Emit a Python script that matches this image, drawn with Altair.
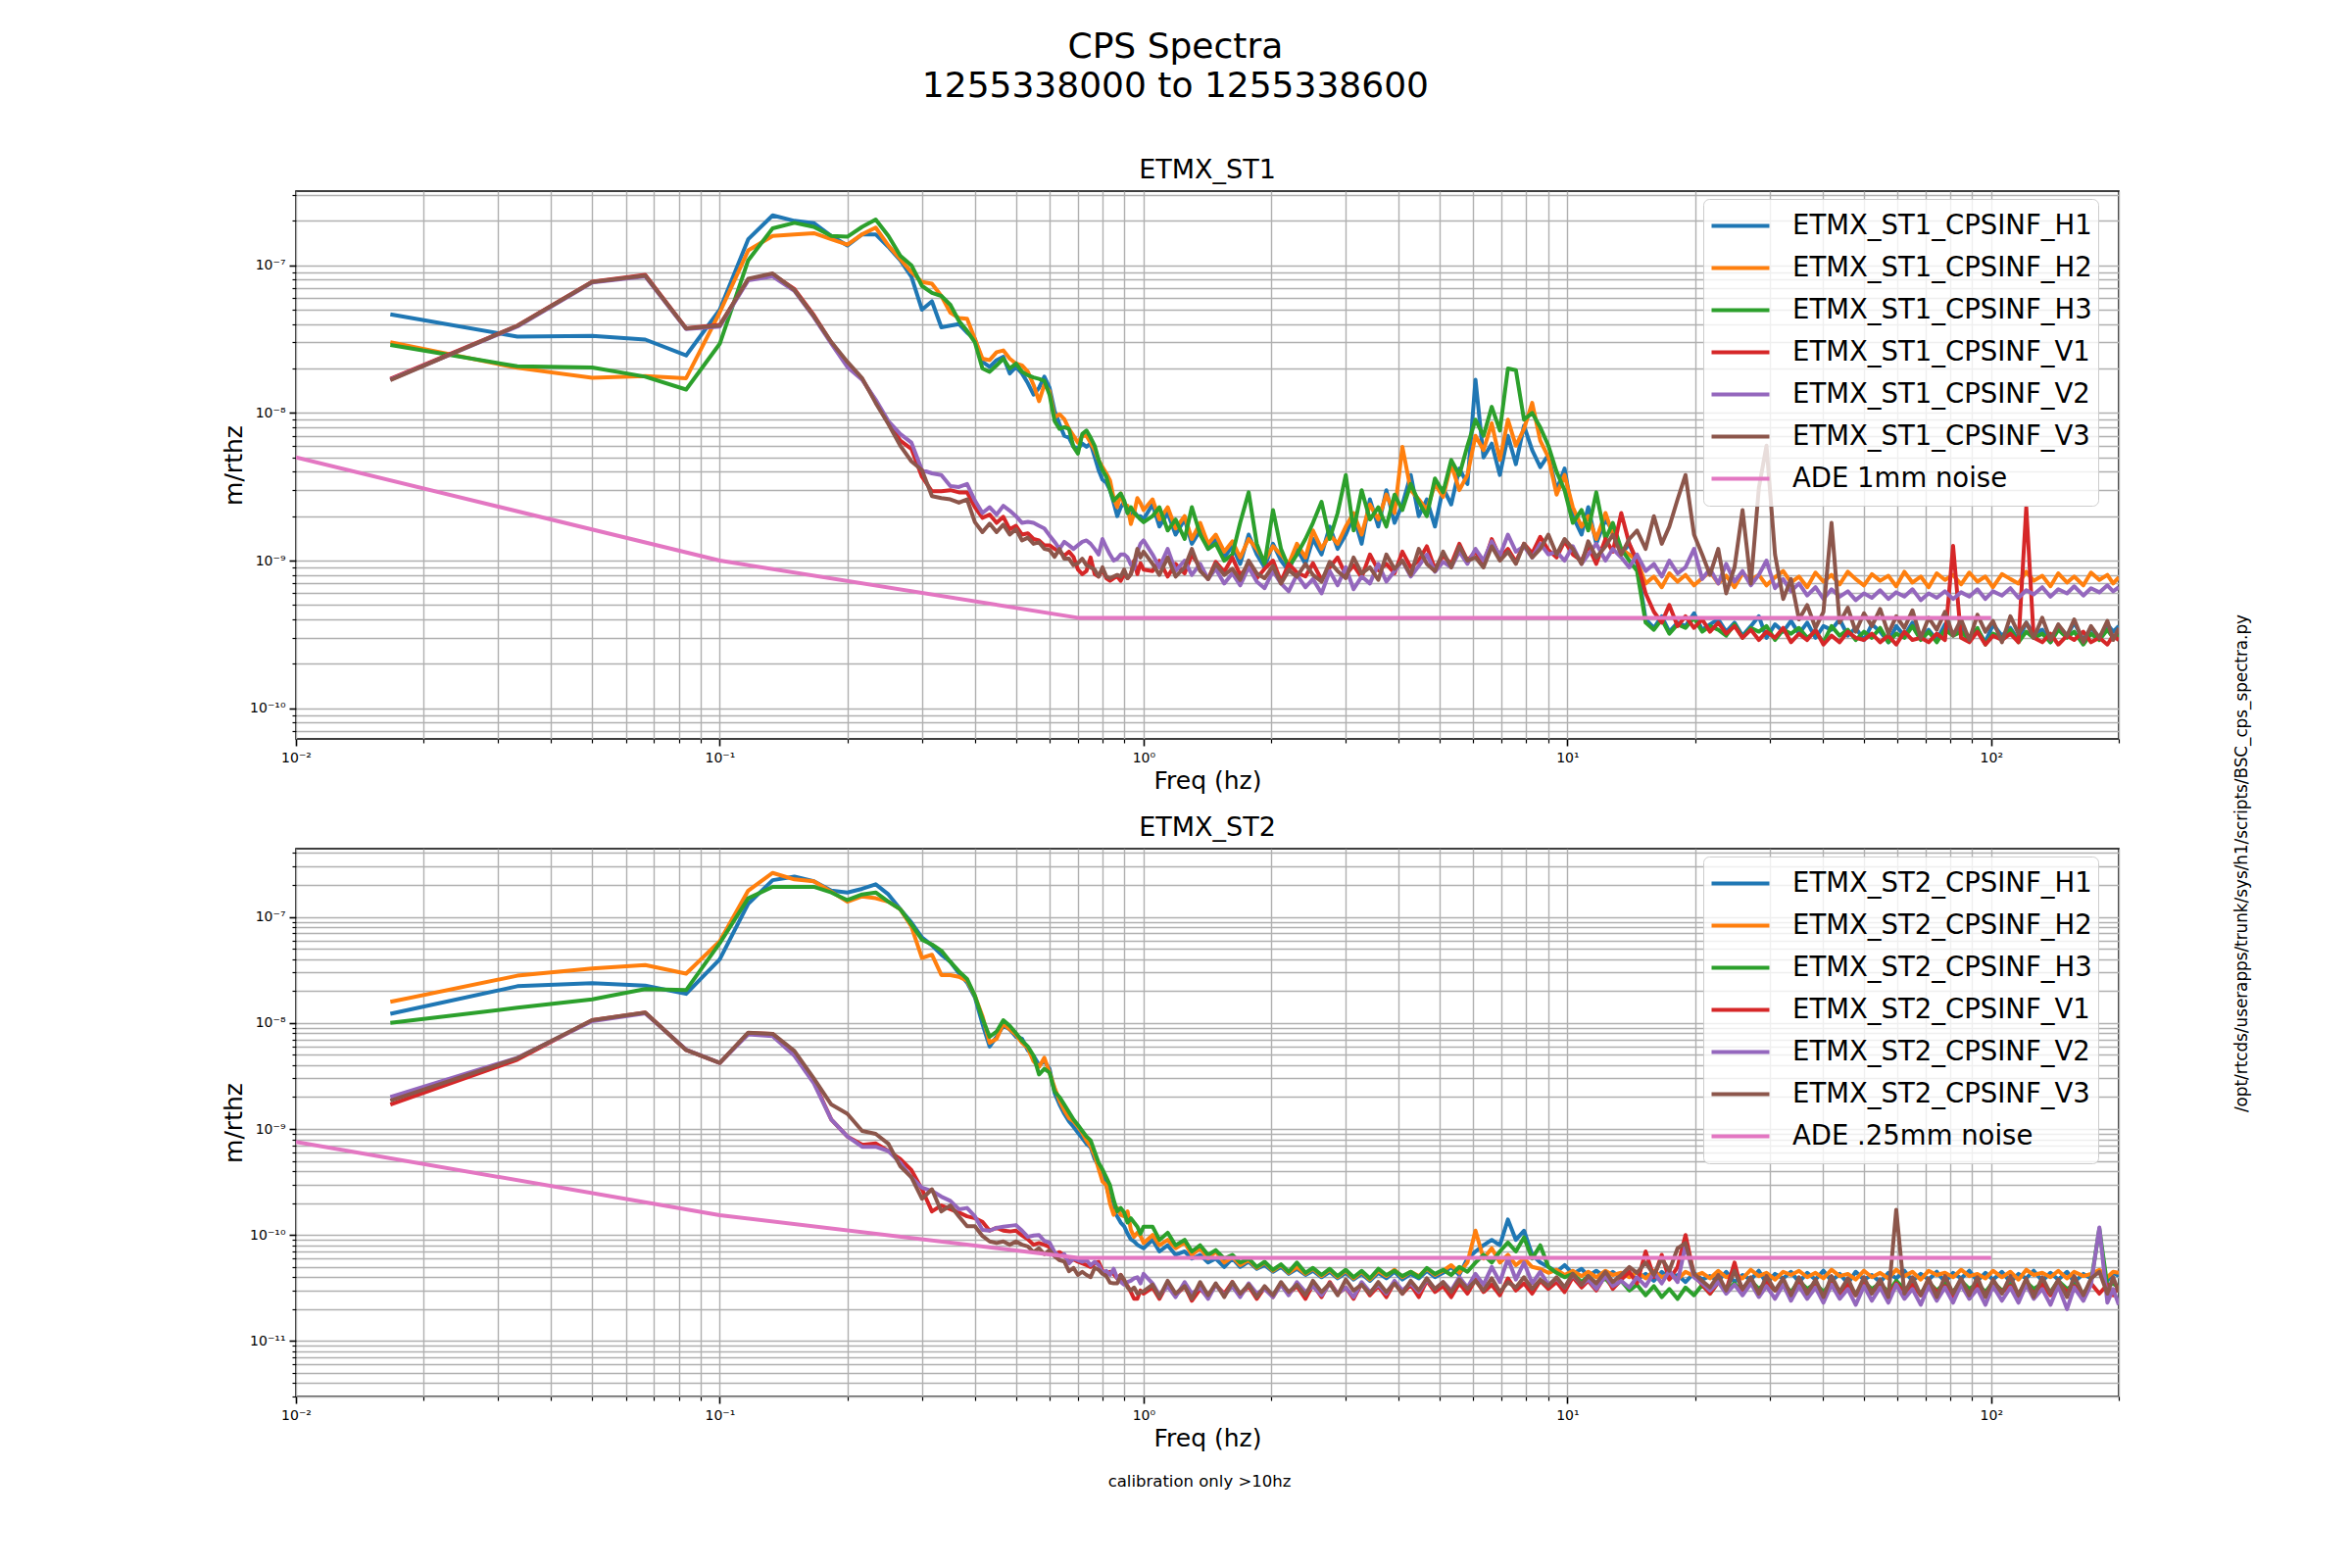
import altair as alt
import pandas as pd

# ---------------- data ----------------
# frequency grid [Hz]
FREQ_LO = [0.0167, 0.0333, 0.05, 0.0667, 0.0833, 0.1, 0.1167, 0.1333, 0.15, 0.1667,
           0.1833, 0.2, 0.2167, 0.2333, 0.25, 0.2667, 0.2833, 0.3, 0.3167, 0.3333,
           0.35, 0.3667, 0.3833, 0.4, 0.4167, 0.4333, 0.45, 0.4667, 0.4833, 0.5,
           0.5167, 0.5333, 0.55, 0.5667, 0.5833, 0.6, 0.6167, 0.6333, 0.65, 0.6667,
           0.6833, 0.7, 0.7167, 0.7333, 0.75, 0.7667, 0.7833, 0.8, 0.8167, 0.8333,
           0.85, 0.8667, 0.8833, 0.9, 0.9167, 0.9333, 0.95, 0.9667, 0.9833, 1.0]
FREQ_HI = [1.05, 1.09, 1.14, 1.19, 1.25, 1.30, 1.36, 1.42, 1.48, 1.55,
           1.62, 1.69, 1.77, 1.85, 1.93, 2.02, 2.11, 2.20, 2.30, 2.41,
           2.51, 2.63, 2.75, 2.87, 3.00, 3.13, 3.27, 3.42, 3.58, 3.74,
           3.91, 4.08, 4.27, 4.46, 4.66, 4.87, 5.09, 5.32, 5.56, 5.81,
           6.07, 6.34, 6.63, 6.93, 7.24, 7.56, 7.90, 8.26, 8.63, 9.02,
           9.43, 9.85, 10.3, 10.8, 11.2, 11.7, 12.3, 12.8, 13.4, 14.0,
           14.6, 15.3, 16.0, 16.7, 17.4, 18.2, 19.0, 19.9, 20.8, 21.7,
           22.7, 23.7, 24.8, 25.9, 27.1, 28.3, 29.5, 30.9, 32.3, 33.7,
           35.2, 36.8, 38.5, 40.2, 42.0, 43.9, 45.9, 47.9, 50.1, 52.3,
           54.7, 57.2, 59.7, 62.4, 65.2, 68.2, 71.2, 74.4, 77.8, 81.3,
           84.9, 88.8, 92.8, 96.9, 101, 106, 111, 116, 121, 126,
           132, 138, 144, 151, 157, 165, 172, 180, 188, 194, 200]
FREQ = FREQ_LO + FREQ_HI

UNIT = 1e-11  # all amplitude values below are in units of 1e-11 m/rthz

# ---- ETMX_ST1 ----
ST1_H1 = [4650, 3290, 3330, 3140, 2450, 5000, 15000, 21800, 20000, 19300,
          15800, 13600, 16200, 16200, 13300, 10800, 8360, 5000, 5700, 3800,
          3900, 4000, 3500, 3170, 2220, 2050, 2280, 2400, 1850, 2050,
          1850, 1590, 1330, 1480, 1760, 1480, 1030, 840, 700, 680,
          590, 575, 620, 590, 620, 505, 410, 353, 337, 300,
          247, 200, 230, 250, 210, 200, 215, 200, 200, 191,
          240, 170, 210, 150, 190, 130, 160, 120, 140, 105,
          125, 95, 150, 110, 90, 130, 100, 85, 120, 95,
          140, 110, 170, 120, 150, 200, 130, 260, 170, 300,
          180, 240, 380, 200, 260, 170, 310, 240, 420, 330,
          1680, 500, 620, 380, 700, 450, 820, 560, 430, 520,
          300, 420, 200, 150, 230, 130, 190, 160, 110, 130,
          95, 40, 35, 42, 33, 38, 36, 44, 34, 37,
          40, 33, 38, 31, 36, 42, 30, 37, 33, 39,
          32, 38, 30, 36, 34, 40, 31, 35, 29, 37,
          33, 28, 36, 31, 38, 30, 34, 29, 37, 32,
          36, 30, 34, 28, 37, 31, 35, 29, 38, 32,
          34, 28, 36, 31, 38, 29, 35, 30, 37, 33, 36]
ST1_H2 = [3010, 2020, 1730, 1780, 1720, 4800, 12600, 15800, 16200, 16500,
          15000, 13800, 16200, 18000, 13600, 11000, 9000, 7700, 7500, 6200,
          4770, 4400, 4350, 3170, 2330, 2280, 2580, 2650, 2330, 2160,
          2100, 1900, 1550, 1200, 1550, 1400, 930, 980, 910, 780,
          700, 630, 700, 700, 630, 560, 480, 430, 390, 350,
          265, 230, 285, 240, 235, 177, 210, 265, 245, 220,
          260, 190, 230, 165, 200, 140, 180, 130, 150, 115,
          135, 105, 140, 120, 100, 125, 110, 95, 130, 105,
          160, 120, 150, 130, 170, 210, 150, 240, 190, 280,
          210, 590, 300, 260, 220, 330, 270, 450, 300, 380,
          700, 560, 850, 480, 900, 600, 780, 1170, 650, 500,
          280, 380, 230, 170, 200, 140, 210, 150, 120, 110,
          100, 70, 78, 66, 82, 72, 80, 68, 76, 84,
          70, 79, 66, 82, 74, 80, 68, 77, 85, 71,
          78, 66, 83, 72, 80, 69, 84, 75, 68, 81,
          73, 79, 67, 84, 71, 78, 66, 82, 74, 80,
          69, 83, 72, 78, 66, 81, 75, 70, 84, 73,
          79, 67, 82, 71, 78, 68, 83, 74, 80, 70, 77]
ST1_H3 = [2890, 2070, 2030, 1760, 1440, 2940, 10800, 17800, 19400, 18200,
          15800, 15600, 18200, 20400, 15800, 11600, 10000, 7250, 6500, 6200,
          5400, 4200, 3600, 3000, 2000, 1900, 2100, 2330, 2000, 2160,
          1900, 1800, 1740, 1700, 1650, 1330, 880, 780, 800, 780,
          590, 530, 720, 760, 680, 600, 480, 410, 370, 300,
          255, 270, 285, 255, 210, 230, 210, 200, 190, 182,
          200, 230, 160, 190, 140, 230, 150, 120, 130, 100,
          110, 180, 290, 130, 95, 220, 120, 90, 110, 140,
          180, 250, 140, 210, 380, 160, 300, 190, 230, 170,
          280, 220, 330, 250, 200, 360, 290, 480, 380, 600,
          900, 700, 1100, 760, 2000, 1950, 900, 1000, 800, 600,
          400, 300, 180, 220, 160, 290, 140, 180, 120, 100,
          85, 38, 34, 40, 32, 37, 35, 41, 33, 36,
          34, 31, 37, 30, 35, 33, 36, 29, 34, 32,
          35, 30, 33, 28, 36, 31, 34, 29, 33, 30,
          35, 28, 32, 30, 36, 29, 33, 28, 34, 31,
          33, 29, 35, 27, 32, 30, 34, 28, 33, 30,
          32, 28, 34, 30, 33, 27, 32, 29, 34, 30, 31]
ST1_V1 = [1700, 3900, 7750, 8600, 3750, 3950, 8000, 8700, 6900, 4600,
          3000, 2150, 1700, 1200, 860, 650, 570, 370, 295, 295,
          300, 290, 290, 230, 195, 205, 180, 198, 163, 172,
          150, 153, 140, 137, 127, 127, 120, 115, 108, 115,
          106, 87, 81, 85, 105, 81, 78, 87, 76, 73,
          76, 78, 73, 81, 76, 81, 100, 81, 96, 87,
          85, 100, 78, 95, 82, 110, 90, 75, 98, 84,
          105, 80, 92, 76, 88, 100, 72, 95, 83, 78,
          96, 74, 90, 105, 80, 93, 77, 110, 86, 95,
          82, 115, 90, 100, 125, 88, 108, 95, 130, 100,
          115, 95, 140, 105, 120, 98, 130, 112, 145, 118,
          105, 135, 110, 100, 125, 95, 140, 115, 210, 130,
          100, 60, 45, 38, 50, 36, 42, 35, 40, 33,
          38, 32, 36, 30, 34, 29, 33, 30, 35, 28,
          32, 29, 34, 27, 31, 28, 33, 30, 29, 32,
          28, 31, 27, 33, 29, 30, 28, 32, 29, 126,
          30, 28, 33, 27, 31, 29, 32, 28, 230, 30,
          28, 32, 27, 31, 29, 33, 28, 30, 27, 31, 29]
ST1_V2 = [1680, 3850, 7650, 8400, 3700, 3850, 7900, 8400, 6700, 4450,
          2950, 2050, 1680, 1230, 880, 720, 630, 410, 390, 380,
          320, 315, 330, 255, 210, 230, 205, 235, 218, 200,
          180, 183, 180, 172, 165, 148, 134, 120, 134, 127,
          120, 127, 134, 137, 130, 120, 110, 140, 123, 110,
          100, 103, 110, 110, 105, 94, 88, 114, 130, 137,
          110, 90, 120, 85, 100, 80, 95, 75, 88, 70,
          82, 68, 90, 72, 65, 85, 70, 62, 80, 66,
          75, 60, 85, 68, 90, 64, 78, 70, 95, 72,
          85, 100, 78, 92, 110, 84, 98, 90, 115, 95,
          120, 100, 135, 108, 150, 115, 125, 105, 130, 110,
          115, 100, 125, 95, 110, 130, 100, 120, 105, 90,
          110, 85, 95, 78, 100, 82, 90, 120, 75, 88,
          70, 95, 72, 85, 68, 80, 100, 65, 75, 62,
          70, 58, 66, 55, 64, 57, 62, 54, 60, 56,
          63, 55, 61, 57, 64, 54, 60, 56, 62, 55,
          61, 57, 64, 55, 62, 58, 65, 56, 63, 59,
          66, 57, 64, 60, 67, 58, 65, 61, 68, 62, 66]
ST1_V3 = [1670, 3890, 7700, 8500, 3730, 3900, 8100, 8800, 6800, 4530,
          3020, 2220, 1720, 1170, 840, 600, 470, 410, 273, 265,
          260, 247, 260, 182, 156, 178, 156, 175, 150, 163,
          137, 143, 130, 133, 120, 118, 106, 120, 103, 103,
          93, 96, 103, 93, 90, 87, 78, 90, 78, 76,
          78, 80, 78, 87, 76, 81, 96, 120, 105, 115,
          95, 80, 105, 78, 90, 120, 85, 75, 95, 80,
          88, 74, 100, 82, 76, 92, 70, 86, 78, 95,
          80, 72, 98, 85, 76, 105, 82, 90, 74, 110,
          88, 100, 80, 120, 95, 85, 115, 90, 125, 100,
          105, 90, 125, 100, 115, 95, 130, 105, 120, 150,
          110, 140, 120, 95, 135, 105, 125, 150, 110, 140,
          160, 120, 200, 130, 170, 260, 380, 150, 110, 80,
          120, 60, 90, 220, 70, 310, 600, 110, 55, 75,
          40, 50, 35, 45, 180, 38, 48, 33, 44, 36,
          47, 32, 42, 35, 46, 30, 41, 34, 45, 31,
          40, 29, 43, 33, 39, 28, 42, 32, 38, 30,
          41, 29, 37, 31, 40, 28, 36, 30, 39, 29, 35]

# ---- ETMX_ST2 ----
ST2_H1 = [1220, 2220, 2370, 2250, 1880, 3980, 13300, 22200, 24000, 21700,
          17700, 17000, 18400, 20300, 16300, 11800, 8850, 6400, 5400, 4400,
          3770, 2950, 2400, 1740, 980, 600, 740, 940, 870, 740,
          710, 550, 490, 400, 435, 370, 218, 170, 139, 118,
          105, 92.5, 82, 72.5, 67, 52, 45, 39.4, 29.5, 21.4,
          16.7, 15, 13.1, 12.1, 10.3, 9.1, 8.7, 8.1, 7.8, 7.5,
          9, 7, 8, 6.5, 7, 6, 6.5, 5.5, 6, 5,
          6, 5, 5.6, 4.8, 5.2, 4.5, 5, 4.3, 4.8, 4.2,
          4.6, 4, 4.5, 3.9, 4.4, 3.8, 4.3, 3.7, 4.4, 3.9,
          4.5, 3.8, 4.3, 3.9, 4.6, 4, 4.4, 5, 4.2, 6,
          7, 8, 9, 8, 14, 9, 11, 6.5, 5.5, 5,
          4.5, 5.2, 4.3, 4.8, 4.1, 4.6, 4, 4.5, 3.9, 4.4,
          3.8, 4.3, 3.7, 4.5, 3.9, 4.2, 3.6, 4.4, 3.8, 4.1,
          3.7, 4.5, 3.6, 4.2, 3.8, 4.6, 3.5, 4.3, 3.9, 4.5,
          3.6, 4.4, 3.8, 4.6, 3.7, 4.3, 3.5, 4.5, 3.8, 4.2,
          3.6, 4.4, 3.9, 4.6, 3.7, 4.3, 3.8, 4.5, 3.6, 4.4,
          3.9, 4.6, 3.7, 4.4, 3.8, 4.5, 3.6, 4.3, 3.9, 4.6,
          3.7, 4.4, 3.8, 4.5, 3.6, 4.3, 3.9, 4.6, 3.7, 4.4, 4.1]
ST2_H2 = [1580, 2790, 3270, 3520, 2920, 5900, 17700, 26000, 22600, 21700,
          17300, 13900, 15600, 15000, 13900, 11800, 8100, 4100, 4400, 2830,
          2830, 2720, 2500, 1800, 1160, 650, 710, 980, 870, 770,
          650, 580, 435, 385, 470, 340, 245, 185, 150, 127,
          118, 105, 92, 78, 69, 56, 42, 32, 29.5, 19.8,
          15.5, 18, 15.5, 15, 16.7, 11.2, 9.6, 10.5, 9.8, 8.4,
          10, 8, 9, 7.5, 8.5, 6.5, 7.5, 6, 7, 5.5,
          6.2, 5.2, 5.8, 4.9, 5.5, 4.6, 5.2, 4.4, 5, 4.3,
          4.8, 4.1, 4.7, 4, 4.6, 3.9, 4.5, 3.8, 4.6, 4.1,
          4.7, 4, 4.5, 4.1, 4.8, 4.2, 4.6, 5.2, 4.4, 5.5,
          11, 6, 7.5, 5.5, 6.5, 5.2, 6, 5, 4.8, 4.4,
          4.7, 4.2, 4.6, 4.1, 4.5, 4, 4.6, 4.2, 4.4, 4,
          4.5, 3.9, 4.6, 4, 4.3, 3.8, 4.5, 4.1, 4.4, 3.9,
          4.6, 4, 4.3, 3.9, 4.7, 4.1, 4.4, 3.8, 4.5, 4.2,
          4.6, 4, 4.4, 3.9, 4.7, 4.1, 4.3, 3.8, 4.6, 4,
          4.4, 3.9, 4.7, 4.1, 4.5, 3.8, 4.6, 4.2, 4.4, 4,
          4.7, 4.1, 4.3, 3.9, 4.6, 4, 4.5, 3.8, 4.7, 4.2,
          4.4, 4, 4.6, 3.9, 4.5, 4.1, 4.3, 4.7, 4, 4.5, 4.4]
ST2_H3 = [1000, 1390, 1670, 2090, 2040, 5650, 15000, 19200, 19200, 19200,
          17000, 14400, 16300, 17000, 13900, 11800, 8500, 6100, 5500, 4800,
          3770, 3070, 2600, 1800, 1100, 740, 830, 1060, 940, 800,
          680, 600, 490, 327, 370, 340, 226, 200, 170, 144,
          123, 109, 96, 85, 78, 61, 48, 41.5, 35, 29.5,
          21.4, 16.7, 18, 16.3, 13.1, 14.4, 13.1, 12, 10.3, 12,
          12, 9, 10.5, 8, 9, 7, 8, 6.5, 7.2, 6,
          6.5, 5.5, 6, 5, 5.6, 4.7, 5.3, 4.5, 5.5, 4.4,
          4.9, 4.2, 4.8, 4.1, 4.7, 4, 4.6, 3.9, 4.8, 4.2,
          4.6, 4.1, 4.5, 4, 4.9, 4.3, 4.7, 4.2, 5, 4.5,
          5.5, 6.5, 5.5, 7, 8.5, 7, 9.5, 6, 8, 5,
          4.4, 4, 4.3, 3.6, 4.1, 3.5, 3.9, 3.2, 3.7, 3,
          3.4, 2.7, 3.3, 2.6, 3.1, 2.5, 3.2, 2.7, 3.4, 2.8,
          3.6, 3, 3.5, 2.9, 3.7, 3.1, 3.6, 3, 3.5, 2.9,
          3.7, 3.1, 3.5, 2.9, 3.6, 3, 3.4, 2.8, 3.6, 3.1,
          3.5, 2.9, 3.7, 3.1, 3.4, 2.8, 3.6, 3, 3.5, 2.9,
          3.7, 3.1, 3.5, 2.9, 3.6, 3, 3.4, 2.8, 3.6, 3.1,
          3.5, 2.9, 3.7, 3.1, 3.4, 2.8, 3.6, 11.5, 3.3, 3.5, 3.2]
ST2_V1 = [170, 450, 1060, 1250, 555, 420, 800, 790, 520, 280,
          123, 85, 71, 73, 62, 52, 41, 27, 16.7, 19,
          17.5, 16.3, 15, 14.4, 13.3, 11, 11.7, 11, 10.8, 11,
          9.9, 9.1, 8.1, 8.4, 8.1, 7.7, 6.6, 6.9, 6.4, 5.6,
          5.9, 5.6, 5.4, 5.2, 5.0, 5.4, 5.6, 4.6, 4.3, 4.5,
          4.3, 3.9, 4.2, 3.6, 3.3, 2.9, 2.5, 2.5, 3.0, 2.8,
          3.2, 2.5, 3.5, 2.7, 3.3, 2.4, 3.1, 2.6, 3.4, 2.8,
          3.6, 2.7, 3.3, 2.5, 3.2, 2.6, 3.5, 2.8, 3.3, 2.5,
          3.4, 2.6, 3.6, 2.8, 3.2, 2.5, 3.5, 2.7, 3.3, 2.6,
          3.6, 2.8, 3.4, 2.6, 3.7, 2.9, 3.3, 2.6, 3.5, 2.8,
          3.8, 2.9, 3.4, 2.7, 3.9, 3, 3.5, 2.8, 3.7, 3.1,
          3.6, 2.9, 4, 3.2, 3.7, 3, 4.2, 3.1, 3.8, 4.5,
          3.5, 7, 4, 6.5, 3.8, 5, 10, 4.2, 3.4, 2.8,
          3.6, 3, 5.5, 2.8, 3.5, 2.9, 3.7, 3, 3.4, 2.7,
          3.6, 2.9, 3.3, 2.6, 3.5, 2.8, 3.4, 2.7, 3.6, 2.9,
          3.3, 2.6, 3.5, 2.8, 3.4, 2.7, 3.6, 2.9, 3.3, 2.6,
          3.5, 2.8, 3.4, 2.7, 3.6, 2.9, 3.3, 2.6, 3.5, 2.8,
          3.4, 2.7, 3.6, 2.9, 3.3, 2.6, 3.5, 2.8, 3.4, 2.7, 3.3]
ST2_V2 = [200, 470, 1040, 1230, 560, 420, 780, 750, 490, 270,
          123, 85, 68, 68, 62, 48, 35, 28, 26, 23,
          21, 17.5, 18, 15, 11.2, 11, 11.7, 12, 12.2, 12.4,
          11, 9.6, 9.9, 10, 8.8, 8.5, 6.9, 6.3, 6.6, 5.4,
          6.0, 5.8, 5.6, 5.8, 5.2, 5.6, 5.2, 4.4, 4.6, 4.2,
          4.8, 3.9, 3.6, 3.4, 3.6, 3.7, 3.9, 4.0, 3.5, 4.3,
          3.5, 2.7, 3.3, 2.6, 3.6, 2.8, 3.2, 2.5, 3.4, 2.7,
          3.3, 2.6, 3.5, 2.8, 3.1, 2.6, 3.4, 2.7, 3.6, 2.9,
          3.3, 2.7, 3.5, 2.8, 3.2, 2.6, 3.6, 2.9, 3.4, 2.8,
          3.7, 3, 3.5, 2.9, 3.8, 3.1, 3.6, 3, 4, 3.2,
          4.3, 3.4, 5, 3.6, 6, 3.8, 5.5, 3.5, 4.5, 3.4,
          3.9, 3.2, 4.2, 3.4, 3.8, 3.1, 4.1, 3.3, 3.7, 3.2,
          4, 3.3, 4.4, 3.5, 4.6, 3.6, 8, 4, 3.5, 3,
          3.6, 2.8, 3.4, 2.7, 3.5, 2.6, 3.3, 2.5, 3.4, 2.4,
          3.3, 2.5, 3.2, 2.3, 3.4, 2.5, 3.1, 2.2, 3.3, 2.4,
          3.2, 2.3, 3.4, 2.5, 3.1, 2.2, 3.3, 2.4, 3.2, 2.3,
          3.4, 2.5, 3.1, 2.2, 3.3, 2.4, 3.2, 2.3, 3.4, 2.5,
          3.1, 2.2, 3.3, 2, 3.2, 2.4, 3.4, 11.8, 2.3, 3.1, 2.2]
ST2_V3 = [185, 465, 1060, 1250, 555, 420, 810, 790, 545, 300,
          170, 139, 96, 90, 72.5, 44.5, 35, 22, 27, 16.7,
          19, 15, 12.1, 12.1, 9.8, 8.7, 8.4, 8.7, 8.1, 8.7,
          8.1, 7.8, 6.9, 7.5, 6.6, 7.2, 6.3, 5.8, 5.6, 4.55,
          4.9, 4.2, 4.5, 4.2, 4.0, 4.9, 4.7, 4.3, 4.1, 3.55,
          3.5, 3.5, 4.2, 3.8, 3.2, 3.0, 3.2, 2.8, 2.9, 2.95,
          3.4, 2.6, 3.7, 2.8, 3.3, 2.5, 3.6, 2.7, 3.5, 2.6,
          3.6, 2.8, 3.4, 2.6, 3.3, 2.7, 3.6, 2.9, 3.4, 2.7,
          3.7, 2.9, 3.5, 2.7, 3.8, 3, 3.4, 2.8, 3.6, 2.9,
          3.5, 2.8, 3.7, 3, 3.9, 3.1, 3.6, 2.9, 3.8, 3.1,
          3.7, 3, 3.9, 2.9, 3.6, 3.2, 4, 3.1, 3.8, 3.3,
          4, 3.2, 4.3, 3.4, 4.1, 3.5, 4.5, 3.6, 4.2, 5,
          4.4, 5.5, 4.2, 6, 4.6, 7.5, 8.4, 4.3, 3.7, 3.2,
          4.2, 3, 4.6, 3.1, 4, 2.8, 4.1, 3, 3.9, 2.7,
          4, 2.8, 3.8, 2.6, 4.1, 2.9, 3.9, 2.7, 4, 2.8,
          3.8, 2.6, 17.3, 2.8, 4, 2.7, 3.9, 2.6, 4.1, 2.8,
          3.9, 2.7, 4, 2.6, 3.8, 2.8, 4.1, 2.7, 3.9, 2.6,
          4, 2.8, 3.8, 2.6, 4.1, 2.7, 3.9, 4.5, 2.8, 4, 2.9]

# ADE noise reference lines
ADE_F = [0.01, 0.1, 0.7, 100]
ADE_1MM = [500, 100, 41, 41]
ADE_025MM = [75.5, 15.4, 6.1, 6.1]

ST1_NAMES = ["ETMX_ST1_CPSINF_H1", "ETMX_ST1_CPSINF_H2", "ETMX_ST1_CPSINF_H3",
             "ETMX_ST1_CPSINF_V1", "ETMX_ST1_CPSINF_V2", "ETMX_ST1_CPSINF_V3",
             "ADE 1mm noise"]
ST2_NAMES = ["ETMX_ST2_CPSINF_H1", "ETMX_ST2_CPSINF_H2", "ETMX_ST2_CPSINF_H3",
             "ETMX_ST2_CPSINF_V1", "ETMX_ST2_CPSINF_V2", "ETMX_ST2_CPSINF_V3",
             "ADE .25mm noise"]
COLORS = ["#1f77b4", "#ff7f0e", "#2ca02c", "#d62728", "#9467bd", "#8c564b", "#e377c2"]

MAIN_TITLE = ["CPS Spectra", "1255338000 to 1255338600"]
FOOTER = "calibration only >10hz"
SCRIPT_PATH = "/opt/rtcds/userapps/trunk/sys/h1/scripts/BSC_cps_spectra.py"

X_DOMAIN = [0.01, 200]
Y1_DOMAIN = [6.2e-11, 3.18e-7]
Y2_DOMAIN = [3.0e-12, 4.4e-7]

# ---------------- layout ----------------
W, H = 1860, 559
GAP = 112
FONT = "DejaVu Sans"


def log_ticks(lo, hi):
    out = []
    for e in range(-13, 4):
        for m in range(1, 10):
            v = float(f"{m}e{e}")
            if lo * 0.999 <= v <= hi * 1.001:
                out.append(v)
    return out


SUP = "['\u2070','\u00b9','\u00b2','\u00b3','\u2074','\u2075','\u2076','\u2077','\u2078','\u2079']"
EXP = "round(log(datum.value)/LN10)"
ISDEC = f"abs(log(datum.value)/LN10 - {EXP}) < 0.001"
LABEL = (f"{ISDEC} ? '10' + ({EXP} < 0 ? '\u207b' : '') + "
         f"(abs({EXP}) >= 10 ? {SUP}[floor(abs({EXP})/10)] : '') + {SUP}[abs({EXP}) % 10] : ''")

COMMON_AXIS = dict(
    labelExpr=LABEL, grid=True, gridColor="#b0b0b0", gridWidth=1.4, domain=False,
    tickColor="black",
    tickSize={"condition": {"test": ISDEC, "value": 7}, "value": 4},
    tickWidth={"condition": {"test": ISDEC, "value": 1.6}, "value": 1.2},
    labelFont=FONT, labelFontSize=14, labelColor="black", labelOverlap=False, labelFlush=False,
    titleFont=FONT, titleFontSize=25, titleFontWeight="normal", titleColor="black",
)


def x_axis():
    return alt.Axis(values=log_ticks(*X_DOMAIN), title="Freq (hz)", labelPadding=5,
                    titleBaseline="alphabetic", titleAlign="center", titleX=W / 2, titleY=50,
                    **COMMON_AXIS)


def y_axis(dom):
    return alt.Axis(values=log_ticks(*dom), title="m/rthz", labelPadding=4,
                    titleAngle=270, titleBaseline="alphabetic", titleAlign="center",
                    titleX=-56, titleY=H / 2, **COMMON_AXIS)


def legend():
    return alt.Legend(title=None, orient="none", legendX=1436, legendY=8, symbolType="stroke",
                      symbolSize=3481, symbolStrokeWidth=4.2, symbolOpacity=1,
                      labelFont=FONT, labelFontSize=27.5, labelColor="black", labelLimit=800,
                      labelOffset=21, fillColor="rgba(255,255,255,0.8)", strokeColor="#cccccc",
                      cornerRadius=6, padding=6, clipHeight=43, rowPadding=0)


def panel(names, series, ade_vals, title, ydom):
    rows = []
    for name, vals in zip(names[:-1], series):
        if len(vals) != len(FREQ):
            raise ValueError(f"{name}: {len(vals)} values for {len(FREQ)} frequencies")
        for f, v in zip(FREQ, vals):
            rows.append((name, f, v * UNIT))
    for f, v in zip(ADE_F, ade_vals):
        rows.append((names[-1], f, v * UNIT))
    df = pd.DataFrame(rows, columns=["series", "freq", "asd"])

    layers = []
    for name in names:
        layers.append(
            alt.Chart()
            .transform_filter(alt.datum.series == name)
            .mark_line(strokeWidth=4.0, clip=True, strokeJoin="round")
            .encode(
                x=alt.X("freq:Q", scale=alt.Scale(type="log", domain=X_DOMAIN), axis=x_axis()),
                y=alt.Y("asd:Q", scale=alt.Scale(type="log", domain=ydom), axis=y_axis(ydom)),
                color=alt.Color("series:N", scale=alt.Scale(domain=names, range=COLORS),
                                legend=legend()),
            )
        )
    return layers, df, alt.TitleParams(title, font=FONT, fontSize=27, fontWeight="normal",
                                       color="black", anchor="middle", offset=4)


l1, d1, t1 = panel(ST1_NAMES, [ST1_H1, ST1_H2, ST1_H3, ST1_V1, ST1_V2, ST1_V3], ADE_1MM,
                   "ETMX_ST1", Y1_DOMAIN)
l2, d2, t2 = panel(ST2_NAMES, [ST2_H1, ST2_H2, ST2_H3, ST2_V1, ST2_V2, ST2_V3], ADE_025MM,
                   "ETMX_ST2", Y2_DOMAIN)

# figure-level annotations (positions relative to the panel they are attached to)
footer = alt.Chart(pd.DataFrame({"t": [FOOTER]})).mark_text(
    font=FONT, fontSize=16.5, color="black", align="center", baseline="alphabetic"
).encode(x=alt.value(922), y=alt.value(651), text="t:N")
side = alt.Chart(pd.DataFrame({"t": [SCRIPT_PATH]})).mark_text(
    font=FONT, fontSize=16.8, color="black", align="center", baseline="middle", angle=270
).encode(x=alt.value(1986), y=alt.value(686), text="t:N")

top = alt.layer(*l1, side, data=d1).properties(width=W, height=H, title=t1)
bottom = alt.layer(*l2, footer, data=d2).properties(width=W, height=H, title=t2)

chart = (
    alt.vconcat(top, bottom, spacing=GAP, bounds="flush",
                title=alt.TitleParams(MAIN_TITLE, font=FONT, fontSize=36, fontWeight="normal",
                                      color="black", anchor="middle", lineHeight=40, offset=52,
                                      dx=-62))
    .resolve_scale(x="independent", y="independent", color="independent")
    .properties(padding={"left": 217, "top": 22, "right": 10, "bottom": 10})
    .configure(font=FONT)
    .configure_view(stroke="black", strokeWidth=1.6)
)

chart.save("out.html", embed_options={"renderer": "svg", "actions": False})
